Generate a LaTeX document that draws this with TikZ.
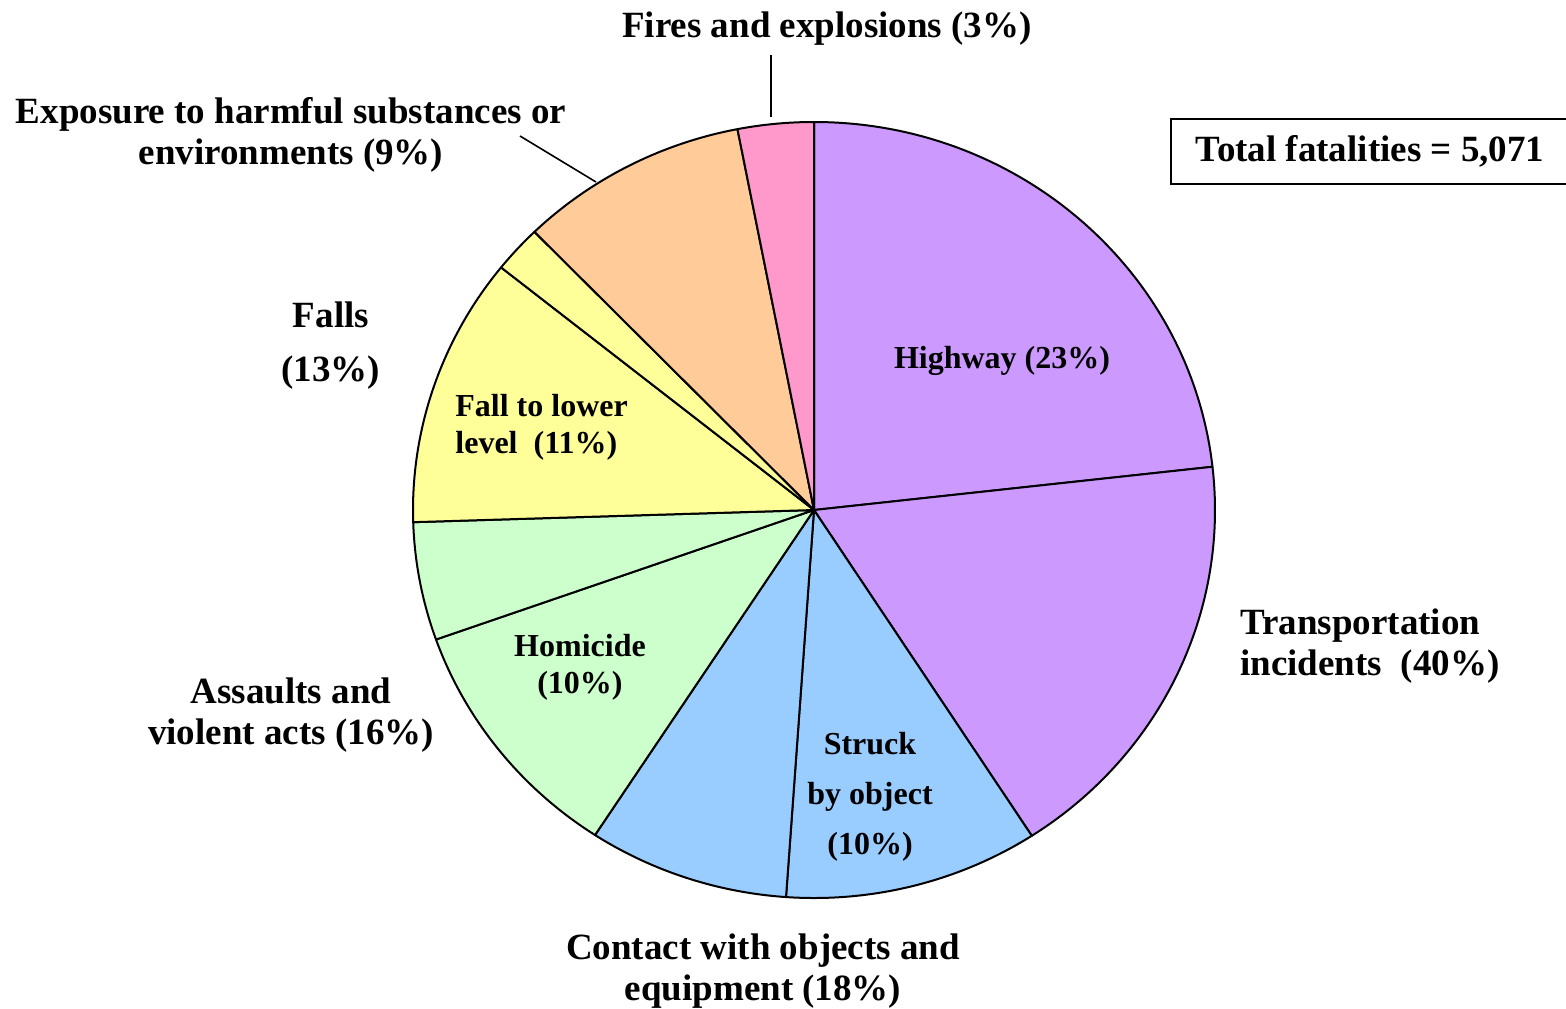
\documentclass[tikz,border=0pt]{standalone}
\usepackage{fontspec}
\setmainfont{Liberation Serif}
\usepackage{tikz}
\usepackage{xcolor}
\definecolor{transp}{HTML}{CC99FF}
\definecolor{contact}{HTML}{99CCFF}
\definecolor{assault}{HTML}{CCFFCC}
\definecolor{falls}{HTML}{FFFF99}
\definecolor{expos}{HTML}{FFCC99}
\definecolor{fires}{HTML}{FF99CC}

\begin{document}
\begin{tikzpicture}[x=0.5pt,y=0.5pt,
                    outer/.style={font=\fontsize{18.5}{20.5}\selectfont\bfseries,inner sep=0pt,align=center,yshift=-2pt},
                    inner/.style={font=\fontsize{16}{18.5}\selectfont\bfseries,inner sep=0pt,align=center,yshift=-2pt},
                    leader/.style={line width=0.8pt}
                   ]
            \useasboundingbox (-814,-498) rectangle (752,510);
            % slices, counterclockwise from the highway cut
            \foreach \from/\to/\col in {6.4/90/transp, -57.1/6.4/transp, -94/-57.1/contact,
                                        -123.1/-94/contact, -160.5/-123.1/assault, -178.2/-160.5/assault,
                                        141.3/181.8/falls, 134.2/141.3/falls, 101/134.2/expos, 90/101/fires}
              \filldraw[fill=\col,draw=black,line width=1pt,line join=round]
                (0,0) -- (\from:401 and 388)
                arc[start angle=\from,end angle=\to,x radius=200.5pt,y radius=194pt] -- cycle;

            % labels
            \node[outer] (fire) at (13,485) {Fires and explosions (3\%)};
            \node[outer] (expo) at (-523,379) {Exposure to harmful substances or\\ environments (9\%)};
            \node[outer,draw,line width=1pt,inner xsep=12.5pt,minimum height=32.5pt,yshift=2pt] (total) at (556,359)
                  {Total fatalities = 5,071};
            \node[outer] (fall) at (-483,168) {Falls\\[6.5pt] (13\%)};
            \node[inner,align=left,anchor=west] (lower) at (-359,86.5) {Fall to lower\\ level\ \ (11\%)};
            \node[inner] (hwy) at (188,153) {Highway (23\%)};
            \node[outer,align=left,anchor=west] (trans) at (426,-132) {Transportation\\ incidents\ \ (40\%)};
            \node[inner,font=\fontsize{16}{25}\selectfont\bfseries] (struck) at (56,-283) {Struck\\ by object\\ (10\%)};
            \node[outer] (cont) at (-51,-457) {Contact with objects and\\ equipment (18\%)};
            \node[inner] (homi) at (-234,-153.5) {Homicide\\ (10\%)};
            \node[outer] (assa) at (-523,-201.5) {Assaults and\\ violent acts (16\%)};

            % leader lines
            \coordinate (fire top) at (-43,455);
            \coordinate (fire end) at (-43,393);
            \coordinate (expo top) at (-294,374);
            \coordinate (expo end) at (-218,328);
            \draw[leader] (fire top) -- (fire end);
            \draw[leader] (expo top) -- (expo end);
        \end{tikzpicture}
\end{document}
